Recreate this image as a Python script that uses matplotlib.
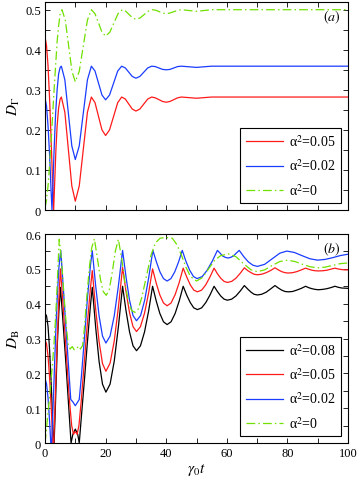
import matplotlib
matplotlib.use('Agg')
import matplotlib.pyplot as plt
from matplotlib.ticker import MultipleLocator, FormatStrFormatter

plt.rcParams['font.family'] = 'serif'
plt.rcParams['font.serif'] = ['Liberation Serif', 'DejaVu Serif']
plt.rcParams['mathtext.fontset'] = 'stix'

# panel (a): D_Gamma, (t, value)
a_red = [(0, 0.433), (0.5, 0.41), (1, 0.36), (1.5, 0.28), (2, 0.18), (2.5, 0.07), (2.85, 0.0),
         (3.2, 0.07), (3.6, 0.15), (4.0, 0.21), (4.5, 0.255), (5.0, 0.277), (5.4, 0.282),
         (6.55, 0.244), (7.7, 0.152), (8.85, 0.060), (10, 0.022), (11.3, 0.060), (12.65, 0.152),
         (14.0, 0.244), (15.3, 0.282), (16.5, 0.268), (17.65, 0.234), (18.8, 0.200), (20, 0.186),
         (21.3, 0.200), (22.65, 0.234), (24, 0.268), (25.3, 0.282), (26.5, 0.277), (27.65, 0.2645),
         (28.8, 0.252), (30, 0.247), (31.3, 0.252), (32.6, 0.2645), (33.9, 0.277), (35.2, 0.282),
         (36.4, 0.280), (37.6, 0.2755), (38.8, 0.271), (40, 0.269), (41.25, 0.271), (42.5, 0.2755),
         (43.75, 0.280), (45, 0.282), (47.5, 0.2805), (50, 0.279), (52.5, 0.2805), (55, 0.282),
         (100, 0.282)]
a_blue = [(0, 0.28), (0.5, 0.26), (1, 0.21), (1.5, 0.14), (2, 0.05), (2.3, 0.0), (2.6, 0.06),
          (3.0, 0.15), (3.5, 0.24), (4.0, 0.30), (4.5, 0.34), (5.0, 0.356), (5.4, 0.359),
          (6.55, 0.325), (7.7, 0.2425), (8.85, 0.160), (10, 0.126), (11.3, 0.160), (12.65, 0.2425),
          (14.0, 0.325), (15.3, 0.359), (16.5, 0.347), (17.65, 0.317), (18.8, 0.287), (20, 0.275),
          (21.3, 0.287), (22.65, 0.317), (24, 0.347), (25.3, 0.359), (26.5, 0.3546), (27.65, 0.344),
          (28.8, 0.3334), (30, 0.329), (31.3, 0.3334), (32.6, 0.344), (33.9, 0.3546), (35.2, 0.359),
          (36.4, 0.358), (37.6, 0.3545), (38.8, 0.351), (40, 0.350), (41.25, 0.351), (42.5, 0.3545),
          (43.75, 0.358), (45, 0.359), (47.5, 0.3575), (50, 0.356), (52.5, 0.3575), (55, 0.359),
          (100, 0.359)]
a_green = [(0, 0.005), (0.5, 0.025), (1, 0.06), (1.5, 0.11), (2, 0.17), (2.5, 0.235), (3, 0.30),
           (3.5, 0.36), (4, 0.42), (4.5, 0.46), (5, 0.49), (5.6, 0.5), (6.7, 0.474), (7.8, 0.41),
           (8.9, 0.346), (10, 0.32), (11.3, 0.346), (12.65, 0.41), (14.0, 0.474), (15.3, 0.5),
           (16.5, 0.490), (17.65, 0.467), (18.8, 0.444), (20, 0.434), (21.4, 0.444), (22.75, 0.467),
           (24.1, 0.490), (25.5, 0.5), (26.6, 0.4965), (27.75, 0.488), (28.9, 0.4795), (30, 0.476),
           (31.4, 0.4795), (32.75, 0.488), (34.1, 0.4965), (35.5, 0.5), (36.6, 0.4985), (37.75, 0.495),
           (38.9, 0.4915), (40, 0.49), (41.1, 0.4915), (42.5, 0.495), (43.9, 0.4985), (45, 0.5),
           (47.5, 0.498), (50, 0.496), (52.5, 0.498), (55, 0.5), (100, 0.5)]

# panel (b): D_B
b_black = [(0, 0.373), (0.5, 0.365), (1, 0.335), (1.5, 0.27), (2, 0.18), (2.5, 0.07), (2.8, 0.0),
           (3.0, 0.0), (3.3, 0.07), (3.7, 0.18), (4.1, 0.29), (4.6, 0.38), (5.1, 0.447), (6.0, 0.34),
           (7.0, 0.215), (8.0, 0.08), (8.6, 0.0), (9.2, 0.025), (10.0, 0.04), (10.8, 0.025), (11.3, 0.0),
           (12.0, 0.075), (13.0, 0.18), (14.0, 0.29), (15.0, 0.395), (15.6, 0.447), (16.725, 0.332),
           (17.85, 0.234), (18.975, 0.169), (20.1, 0.146), (21.475, 0.169), (22.85, 0.235),
           (24.225, 0.334), (25.6, 0.45), (26.75, 0.379), (27.9, 0.319), (29.05, 0.279), (30.2, 0.265),
           (31.5, 0.279), (32.85, 0.319), (34.2, 0.379), (35.5, 0.45), (36.7, 0.408), (37.9, 0.372),
           (39.1, 0.348), (40.3, 0.34), (41.6, 0.348), (42.95, 0.372), (44.3, 0.408), (45.6, 0.45),
           (46.8, 0.424), (47.95, 0.403), (49.1, 0.388), (50.3, 0.383), (51.7, 0.388), (53.05, 0.403),
           (54.4, 0.424), (55.8, 0.45), (56.9, 0.435), (58.0, 0.422), (59.1, 0.413), (60.2, 0.41),
           (61.6, 0.413), (63.0, 0.422), (64.4, 0.436), (65.8, 0.452), (66.9, 0.442), (68.0, 0.433),
           (69.0, 0.427), (70.1, 0.425), (71.5, 0.427), (73.0, 0.433), (74.4, 0.442), (75.9, 0.452),
           (77.0, 0.445), (78.1, 0.439), (79.2, 0.435), (80.3, 0.434), (81.7, 0.435), (83.1, 0.439),
           (84.6, 0.444), (86.0, 0.45), (87.0, 0.446), (88.1, 0.443), (89.2, 0.441), (90.2, 0.44),
           (91.6, 0.441), (93.0, 0.443), (94.3, 0.446), (95.7, 0.45), (96.8, 0.447), (97.9, 0.445),
           (99.0, 0.4445), (100, 0.444)]
b_red = [(0, 0.296), (0.5, 0.285), (1, 0.25), (1.5, 0.19), (2, 0.11), (2.4, 0.035), (2.6, 0.0),
         (2.9, 0.0), (3.2, 0.08), (3.6, 0.19), (4.1, 0.31), (4.6, 0.42), (5.1, 0.50), (6, 0.39),
         (7, 0.26), (8, 0.13), (8.8, 0.05), (9.4, 0.025), (10, 0.033), (10.6, 0.025), (11.2, 0.05),
         (12, 0.125), (13, 0.235), (14, 0.345), (15, 0.445), (15.6, 0.495), (16.725, 0.384),
         (17.85, 0.291), (18.975, 0.228), (20.1, 0.206), (21.475, 0.229), (22.85, 0.293),
         (24.225, 0.39), (25.6, 0.504), (26.75, 0.434), (27.9, 0.374), (29.05, 0.334), (30.2, 0.32),
         (31.5, 0.334), (32.85, 0.373), (34.2, 0.431), (35.5, 0.50), (36.7, 0.459), (37.9, 0.425),
         (39.1, 0.402), (40.3, 0.394), (41.6, 0.402), (42.95, 0.426), (44.3, 0.461), (45.6, 0.502),
         (46.8, 0.476), (47.95, 0.454), (49.1, 0.439), (50.3, 0.434), (51.7, 0.439), (53.05, 0.454),
         (54.4, 0.476), (55.8, 0.502), (56.9, 0.486), (58.0, 0.473), (59.1, 0.464), (60.2, 0.461),
         (61.6, 0.464), (63.0, 0.473), (64.4, 0.487), (65.8, 0.503), (66.9, 0.495), (68.0, 0.489),
         (69.0, 0.4845), (70.1, 0.483), (71.5, 0.4845), (73.0, 0.489), (74.4, 0.495), (75.9, 0.503),
         (77.0, 0.497), (78.1, 0.492), (79.2, 0.489), (80.3, 0.488), (81.7, 0.489), (83.1, 0.492),
         (84.6, 0.497), (86.0, 0.502), (87.0, 0.499), (88.1, 0.496), (89.2, 0.4945), (90.2, 0.494),
         (91.6, 0.4945), (93.0, 0.496), (94.3, 0.499), (95.7, 0.502), (96.8, 0.4995), (97.9, 0.498),
         (99.0, 0.497), (100, 0.497)]
b_blue = [(0, 0.185), (0.5, 0.17), (1, 0.13), (1.5, 0.065), (1.9, 0.0), (2.2, 0.0), (2.6, 0.09),
          (3.1, 0.21), (3.6, 0.33), (4.1, 0.43), (4.6, 0.505), (5.2, 0.553), (6, 0.45), (7, 0.32),
          (8, 0.19), (8.5, 0.125), (9.2, 0.118), (10, 0.107), (10.8, 0.118), (11.3, 0.125), (12, 0.19),
          (13, 0.30), (14, 0.415), (15, 0.51), (15.6, 0.552), (16.725, 0.451), (17.85, 0.365),
          (18.975, 0.307), (20.1, 0.287), (21.475, 0.307), (22.85, 0.365), (24.225, 0.451),
          (25.6, 0.553), (26.75, 0.476), (27.9, 0.41), (29.05, 0.366), (30.2, 0.351), (31.55, 0.366),
          (32.9, 0.41), (34.25, 0.476), (35.6, 0.553), (36.8, 0.519), (37.95, 0.491), (39.1, 0.472),
          (40.3, 0.465), (41.55, 0.472), (42.8, 0.491), (44.05, 0.519), (45.3, 0.553), (46.5, 0.522),
          (47.75, 0.496), (49.0, 0.478), (50.2, 0.472), (51.9, 0.478), (53.5, 0.496), (55.2, 0.522),
          (56.9, 0.553), (57.8, 0.545), (58.6, 0.537), (59.5, 0.533), (60.4, 0.531), (61.3, 0.533),
          (62.2, 0.537), (63.1, 0.545), (64.1, 0.553), (65.6, 0.535), (67.1, 0.52), (68.6, 0.5105),
          (70.1, 0.507), (72.5, 0.513), (75, 0.529), (77.5, 0.545), (79.8, 0.551), (82.3, 0.547),
          (84.8, 0.538), (87.4, 0.529), (89.9, 0.525), (92.4, 0.527), (94.9, 0.532), (97.4, 0.538),
          (100, 0.542)]
b_green = [(0, 0.0), (0.5, 0.04), (1, 0.09), (1.5, 0.13), (2, 0.18), (2.5, 0.23), (3, 0.29),
           (3.5, 0.36), (4, 0.45), (4.4, 0.53), (4.7, 0.585), (5.5, 0.52), (6.3, 0.42), (7.0, 0.34),
           (7.6, 0.285), (8.3, 0.27), (9.0, 0.277), (9.6, 0.268), (10.4, 0.27), (11.0, 0.278),
           (11.7, 0.27), (12.4, 0.28), (13.0, 0.33), (13.8, 0.42), (14.6, 0.50), (15.4, 0.56),
           (16.3, 0.586), (17.3, 0.53), (18.3, 0.47), (19.2, 0.435), (20.2, 0.424), (21.2, 0.44),
           (22.2, 0.49), (23.2, 0.55), (24.2, 0.585), (25.3, 0.53), (26.4, 0.46), (27.5, 0.405),
           (28.6, 0.38), (29.7, 0.375), (30.8, 0.385), (32, 0.42), (33.5, 0.48), (35, 0.54),
           (36.5, 0.575), (38, 0.588), (40, 0.59), (42, 0.588), (43.5, 0.57), (45, 0.54),
           (46.5, 0.505), (48, 0.478), (50, 0.465), (52, 0.475), (54, 0.5), (56, 0.525), (58, 0.538),
           (60.5, 0.543), (63, 0.535), (65.5, 0.515), (68, 0.497), (70, 0.492), (72.5, 0.497),
           (75, 0.51), (77.5, 0.521), (80, 0.525), (82.5, 0.521), (85, 0.513), (87.5, 0.506),
           (90, 0.503), (92.5, 0.505), (95, 0.51), (97.5, 0.515), (100, 0.517)]

RED = '#ff1a1a'
BLUE = '#1a3cff'
GREEN = '#70e000'
DASHDOT = (0, (7, 2.5, 1.2, 2.5))


def draw(ax, pts, color, label, ls='-'):
    t = [p[0] for p in pts]
    v = [p[1] for p in pts]
    ax.plot(t, v, color=color, lw=0.9, ls=ls, label=label)


def style(ax, ymax):
    ax.set_xlim(0, 100)
    ax.set_ylim(0, ymax)
    ax.xaxis.set_major_locator(MultipleLocator(20))
    ax.xaxis.set_minor_locator(MultipleLocator(10))
    ax.yaxis.set_major_locator(MultipleLocator(0.1))
    ax.yaxis.set_minor_locator(MultipleLocator(0.05))
    ax.yaxis.set_major_formatter(FormatStrFormatter('%g'))
    ax.tick_params(which='both', direction='in', top=True, right=True,
                   length=3.5, width=0.6, labelsize=9, pad=3)
    for s in ax.spines.values():
        s.set_linewidth(0.8)


fig = plt.figure(figsize=(3.6, 4.89), dpi=100)
ax1 = fig.add_axes([0.125, 0.5685, 0.8417, 0.426])
ax2 = fig.add_axes([0.125, 0.092, 0.8417, 0.4274])

draw(ax1, a_red, RED, 'α$^2$=0.05')
draw(ax1, a_blue, BLUE, 'α$^2$=0.02')
draw(ax1, a_green, GREEN, 'α$^2$=0', DASHDOT)
style(ax1, 0.52)
ax1.tick_params(labelbottom=False)
ax1.set_ylabel(r'$D_\Gamma$', fontsize=11, labelpad=2)
ax1.text(0.947, 0.928, r'$(a)$', transform=ax1.transAxes, fontsize=10, ha='center', va='center')

draw(ax2, b_black, 'black', 'α$^2$=0.08')
draw(ax2, b_red, RED, 'α$^2$=0.05')
draw(ax2, b_blue, BLUE, 'α$^2$=0.02')
draw(ax2, b_green, GREEN, 'α$^2$=0', DASHDOT)
style(ax2, 0.6)
ax2.set_ylabel(r'$D_\mathrm{B}$', fontsize=11, labelpad=2)
ax2.set_xlabel(r'$\gamma_0 t$', fontsize=11, labelpad=1)
ax2.text(0.947, 0.933, r'$(b)$', transform=ax2.transAxes, fontsize=10, ha='center', va='center')

for ax in (ax1, ax2):
    leg = ax.legend(loc='lower right', fontsize=10, handlelength=2.7, handletextpad=0.4,
                    labelspacing=0.6, borderaxespad=0.5, fancybox=False, framealpha=1)
    leg.get_frame().set_edgecolor('black')
    leg.get_frame().set_linewidth(0.8)

fig.savefig('out.png', dpi=100)
